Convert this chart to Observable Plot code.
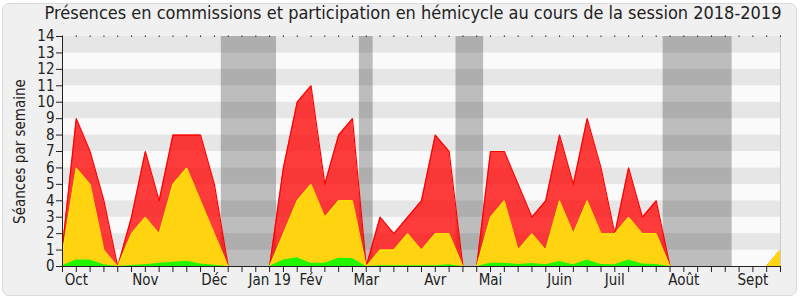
<!DOCTYPE html>
<html>
<head>
<meta charset="utf-8">
<script src="https://cdn.jsdelivr.net/npm/d3@7"></script>
<script src="https://cdn.jsdelivr.net/npm/@observablehq/plot@0.6"></script>
<style>
  html, body { margin: 0; padding: 0; background: #ffffff; }
  #page { position: relative; width: 800px; height: 300px; overflow: hidden; }
  #frame { position: absolute; left: 2px; top: 3px; width: 793px; height: 291px;
           background: #f0f0f0; border: 1px solid #d9d9d9; border-radius: 7px; }
  #title { position: absolute; left: 0; top: 2px; width: 826px; text-align: center;
           font-family: "DejaVu Sans Condensed", "DejaVu Sans", sans-serif; font-stretch: condensed;
           font-size: 18px; color: #222; white-space: nowrap; }
  #chart { position: absolute; left: 0; top: 28px; }
</style>
</head>
<body>
<div id="page">
  <div id="frame"></div>
  <div id="title">Présences en commissions et participation en hémicycle au cours de la session 2018-2019</div>
  <div id="chart"></div>
</div>
<script>
// Week index (x), 0..52
const weeks = [0,1,2,3,4,5,6,7,8,9,10,11,12,13,14,15,16,17,18,19,20,21,22,23,24,25,26,27,28,29,30,31,32,33,34,35,36,37,38,39,40,41,42,43,44,45,46,47,48,49,50,51,52];

// Red: total presences per week
const totalValues = [1.2,9,7,4,0,3,7,4,8,8,8,5,0,0,0,0,6,10,11,5,8,9,0,3,2,3,4,8,7,0,0,7,7,5,3,4,8,5,9,6,2,6,3,4,0,0,0,0,0,0,0,0,1];
// Yellow: commission presences per week
const commissionValues = [0.8,6,5,1,0,2,3,2,5,6,4,2,0,0,0,0,2,4,5,3,4,4,0,1,1,2,1,2,2,0,0,3,4,1,2,1,4,2,4,2,2,3,2,2,0,0,0,0,0,0,0,0,1];
// Green: hemicycle participation per week
const hemicycleValues = [0.05,0.4,0.4,0.1,0,0.06,0.1,0.2,0.26,0.32,0.15,0.08,0,0,0,0,0.4,0.53,0.2,0.2,0.5,0.48,0,0.05,0.05,0.05,0.05,0.05,0.1,0,0,0.2,0.2,0.12,0.18,0.1,0.3,0.1,0.4,0.12,0.1,0.4,0.15,0.12,0,0,0,0,0,0,0,0,0];

// Month tick labels (week index -> label)
const monthWeeks = [1, 6, 11, 15, 18, 22, 27, 31, 36, 40, 45, 50];
const monthLabels = ["Oct", "Nov", "Déc", "Jan 19", "Fév", "Mar", "Avr", "Mai", "Juin", "Juil", "Août", "Sept"];

// Parliamentary holidays (week ranges)
const holidayStart = [11.5, 21.5, 28.5, 43.5];
const holidayEnd = [15.5, 22.5, 30.5, 48.5];

// Y ticks
const yTicks = [0,1,2,3,4,5,6,7,8,9,10,11,12,13,14];

const data = weeks.map((w, i) => ({w, total: totalValues[i], commission: commissionValues[i], hemicycle: hemicycleValues[i]}));
const holidays = holidayStart.map((s, i) => ({start: s, end: holidayEnd[i]}));
const stripes = yTicks.slice(0, -1);
const labelMap = new Map(monthWeeks.map((w, i) => [w, monthLabels[i]]));

const chart = Plot.plot({
  width: 800,
  height: 272,
  marginLeft: 62,
  marginRight: 20,
  marginTop: 8,
  marginBottom: 34,
  x: {domain: [0, 52]},
  y: {domain: [0, 14]},
  style: {background: "transparent", fontFamily: "'DejaVu Sans Condensed', 'DejaVu Sans', sans-serif", fontStretch: "condensed", fontSize: "15px", color: "#222"},
  marks: [
    Plot.rect(stripes, {y1: d => d, y2: d => d + 1, fill: d => d % 2 ? "#e6e6e6" : "#fafafa"}),
    Plot.rect(holidays, {x1: "start", x2: "end", y1: 0, y2: 14, fill: "#000", fillOpacity: 0.245}),
    Plot.areaY(data, {x: "w", y: "total", fill: "#ff0000", fillOpacity: 0.76}),
    Plot.lineY(data, {x: "w", y: "total", stroke: "#ff0000", strokeWidth: 1.2}),
    Plot.areaY(data, {x: "w", y: "commission", fill: "#ffd310"}),
    Plot.lineY(data, {x: "w", y: "commission", stroke: "#ffee00", strokeWidth: 1}),
    Plot.areaY(data, {x: "w", y: "hemicycle", fill: "#22f500"}),
    Plot.ruleX([52], {stroke: "#cccccc"}),
    Plot.ruleY([0], {stroke: "#222"}),
    Plot.ruleX([0], {stroke: "#222"}),
    Plot.axisY({ticks: yTicks, tickSize: 6, tickPadding: 2, label: "Séances par semaine", labelAnchor: "center", labelArrow: "none", labelOffset: 48, fontSize: 15}),
    Plot.axisX({ticks: weeks, tickSize: 6, tickPadding: 2, tickFormat: d => labelMap.get(d) ?? "", label: null, fontSize: 15}),
    Plot.axisX({anchor: "top", ticks: weeks, tickSize: 1.5, tickFormat: () => "", label: null})
  ]
});
document.getElementById("chart").appendChild(chart);
</script>
</body>
</html>
